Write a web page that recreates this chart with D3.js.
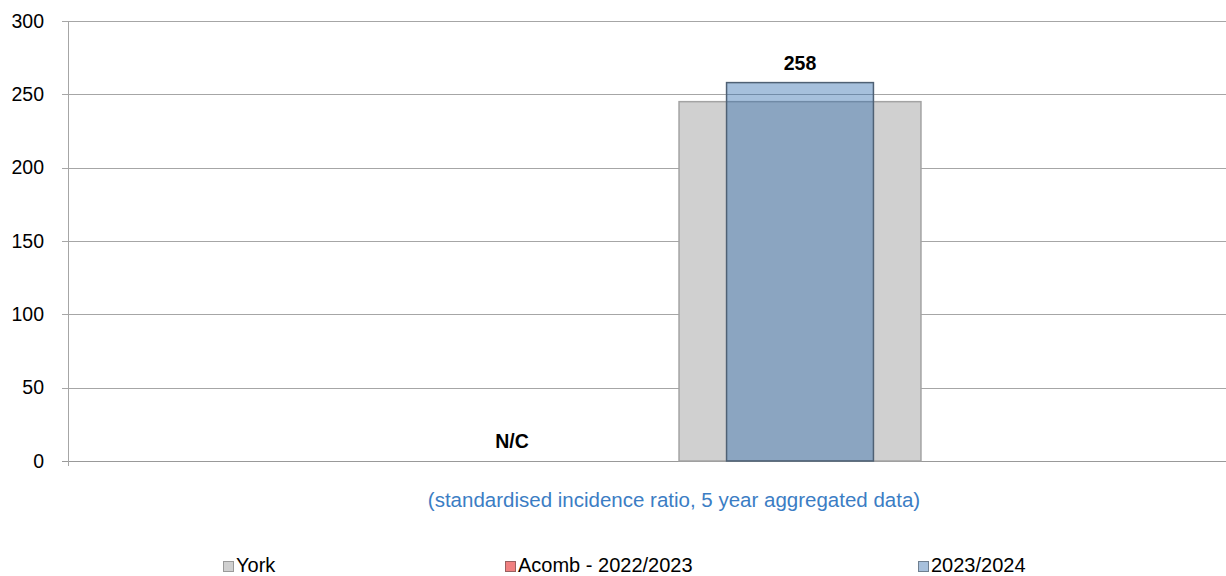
<!DOCTYPE html>
<html>
<head>
<meta charset="utf-8">
<script src="https://cdn.jsdelivr.net/npm/d3@7"></script>
<style>
  body { margin: 0; background: #fff; }
  svg { display: block; font-family: "Liberation Sans", Arial, sans-serif; }
</style>
</head>
<body>
<div id="chart"></div>
<script>
// data
var periods = ["2022/2023", "2023/2024"];
var yorkValues = [null, 245];
var acombValues = [null, 258];
var acombLabels = ["N/C", "258"];
var yTicks = [0, 50, 100, 150, 200, 250, 300];
var legendNames = ["York", "Acomb - 2022/2023", "2023/2024"];

(function() {
  var width = 1226, height = 576;
  var margin = { top: 21, left: 68, right: 0, bottom: 115 };

  var svg = d3.select("#chart")
    .append("svg")
    .attr("width", width)
    .attr("height", height);

  var y = d3.scaleLinear().domain([0, 300]).range([height - margin.bottom, margin.top]);
  var x = d3.scaleBand().domain(periods).range([368, 944]);

  // gridlines
  svg.append("g")
    .selectAll("line")
    .data(yTicks)
    .enter().append("line")
    .attr("x1", margin.left - 6)
    .attr("x2", width)
    .attr("y1", function(d) { return Math.round(y(d)) + 0.5; })
    .attr("y2", function(d) { return Math.round(y(d)) + 0.5; })
    .attr("stroke", function(d) { return d == 0 ? "#999" : "#a6a6a6"; })
    .attr("stroke-width", 1);

  // y axis line
  svg.append("line")
    .attr("x1", margin.left + 0.5).attr("x2", margin.left + 0.5)
    .attr("y1", y(300)).attr("y2", y(0) + 5)
    .attr("stroke", "#a6a6a6");

  svg.append("g")
    .selectAll("text")
    .data(yTicks)
    .enter().append("text")
    .attr("x", 44)
    .attr("y", function(d) { return y(d); })
    .attr("dy", "0.35em")
    .attr("text-anchor", "end")
    .attr("font-size", 19.5)
    .attr("fill", "#000")
    .text(function(d) { return d; });

  var bw = x.bandwidth();

  // York (wide, behind)
  svg.append("g")
    .selectAll("rect")
    .data(periods.filter(function(p, i) { return yorkValues[i] != null; }))
    .enter().append("rect")
    .attr("x", function(d) { return x(d) + bw / 2 - bw * 0.42; })
    .attr("width", bw * 0.84)
    .attr("y", function(d) { return y(yorkValues[periods.indexOf(d)]); })
    .attr("height", function(d) { return y(0) - y(yorkValues[periods.indexOf(d)]); })
    .attr("fill", "#d0d0d0")
    .attr("stroke", "#a3a3a3")
    .attr("stroke-width", 1.5);

  // Acomb
  svg.append("g")
    .selectAll("rect")
    .data(periods.filter(function(p, i) { return acombValues[i] != null; }))
    .enter().append("rect")
    .attr("x", function(d) { return x(d) + bw / 2 - bw * 0.255; })
    .attr("width", bw * 0.51)
    .attr("y", function(d) { return y(acombValues[periods.indexOf(d)]); })
    .attr("height", function(d) { return y(0) - y(acombValues[periods.indexOf(d)]); })
    .attr("fill", "rgb(43,105,171)")
    .attr("fill-opacity", 0.42)
    .attr("stroke", "#4f6174")
    .attr("stroke-width", 1.5);

  // value labels
  svg.append("g")
    .selectAll("text")
    .data(periods)
    .enter().append("text")
    .attr("x", function(d) { return x(d) + bw / 2; })
    .attr("y", function(d, i) {
      var v = acombValues[i] == null ? 0 : acombValues[i];
      return y(v) - 13;
    })
    .attr("text-anchor", "middle")
    .attr("font-size", 19.5)
    .attr("font-weight", "bold")
    .attr("fill", "#000")
    .text(function(d, i) { return acombLabels[i]; });

  // axis title
  svg.append("text")
    .attr("x", 674)
    .attr("y", 507)
    .attr("text-anchor", "middle")
    .attr("font-size", 20.5)
    .attr("fill", "#3b7dc4")
    .text("(standardised incidence ratio, 5 year aggregated data)");

  // legend
  var legendX = [223, 505, 918];
  var legendFill = ["#d0d0d0", "#f08080", "#a7c0dc"];
  var legendStroke = ["#9a9a9a", "#9a6060", "#6f7f90"];
  var leg = svg.append("g")
    .selectAll("g")
    .data(legendNames)
    .enter().append("g")
    .attr("transform", function(d, i) { return "translate(" + legendX[i] + ",565)"; });

  leg.append("rect")
    .attr("x", 0.5).attr("y", -3.5)
    .attr("width", 10).attr("height", 10)
    .attr("fill", function(d, i) { return legendFill[i]; })
    .attr("stroke", function(d, i) { return legendStroke[i]; });

  leg.append("text")
    .attr("x", 13)
    .attr("y", 0)
    .attr("dy", "0.35em")
    .attr("font-size", 20)
    .attr("fill", "#000")
    .text(function(d) { return d; });
})();
</script>
</body>
</html>
